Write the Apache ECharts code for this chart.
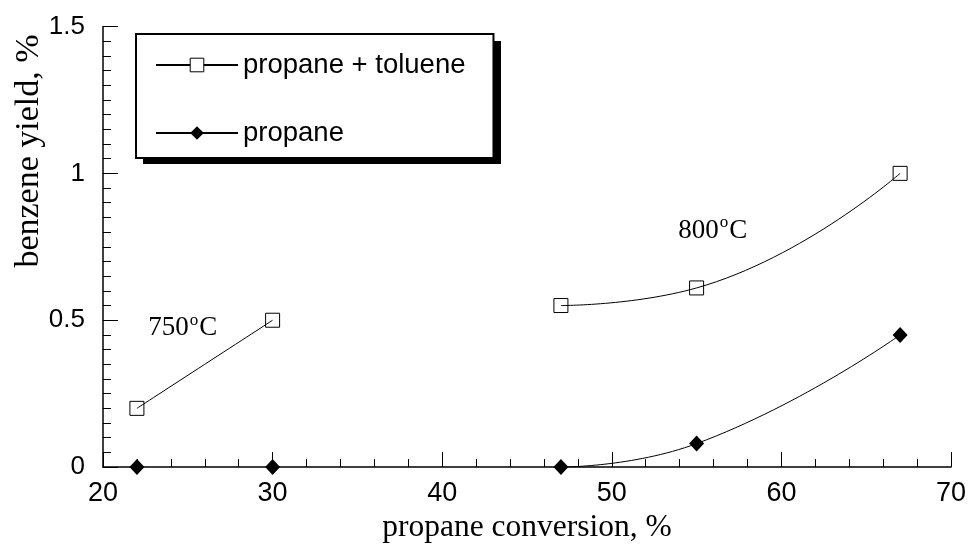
<!DOCTYPE html>
<html>
<head>
<meta charset="utf-8">
<script src="https://cdn.jsdelivr.net/npm/echarts@6/dist/echarts.min.js"></script>
<style>html,body{margin:0;padding:0;background:#fff}#c{width:970px;height:549px}</style>
</head>
<body>
<div id="c"></div>
<script>
// ---- data ----
const seriesNames = ['propane + toluene', 'propane'];
const tolueneAt750 = [[22, 0.2], [30, 0.5]];
const tolueneAt800 = [[47, 0.55], [55, 0.61], [67, 1.0]];
const propaneAt750 = [[22, 0], [30, 0]];
const propaneAt800 = [[47, 0], [55, 0.08], [67, 0.45]];
const xTitle = 'propane conversion, %';
const yTitle = 'benzene yield, %';
const tempLabels = [
  { temp: '750', at: [24.7, 0.478] },
  { temp: '800', at: [55.95, 0.81] }
];

const sans = 'Liberation Sans';
const serif = 'Liberation Serif';

const chart = echarts.init(document.getElementById('c'));

const squareSeries = (data, withLabels) => ({
  name: seriesNames[0],
  type: 'line',
  data: data,
  smooth: 0.5,
  symbol: 'rect',
  symbolSize: 14,
  showSymbol: true,
  itemStyle: { color: 'rgba(255,255,255,0)', borderColor: '#000', borderWidth: 1 },
  lineStyle: { color: '#000', width: 1 },
  emphasis: { disabled: true },
  z: 3,
  markPoint: withLabels ? {
    symbol: 'circle',
    symbolSize: 0,
    silent: true,
    label: {
      show: true,
      position: 'inside',
      formatter: p => '{a|' + p.name + '}{b|o}{a|C}',
      rich: {
        a: { fontFamily: serif, fontSize: 27, color: '#000', lineHeight: 30, verticalAlign: 'bottom' },
        b: { fontFamily: serif, fontSize: 17, color: '#000', lineHeight: 30, verticalAlign: 'top', padding: [0, 1, 12, 1] }
      }
    },
    data: tempLabels.map(t => ({ name: t.temp, coord: t.at }))
  } : undefined
});

const diamondSeries = (data, showLine) => ({
  name: seriesNames[1],
  type: 'line',
  data: data,
  smooth: 0.5,
  symbol: 'diamond',
  symbolSize: [15, 16],
  showSymbol: true,
  itemStyle: { color: '#000' },
  lineStyle: { color: '#000', width: showLine ? 1 : 0, opacity: showLine ? 1 : 0 },
  emphasis: { disabled: true },
  z: 4
});

chart.setOption({
  animation: false,
  backgroundColor: '#fff',
  grid: { left: 103, right: 19, top: 26.5, bottom: 80, containLabel: false },
  xAxis: {
    type: 'value', min: 20, max: 70, interval: 10,
    name: xTitle, nameLocation: 'middle', nameGap: 39,
    nameTextStyle: { fontFamily: serif, fontSize: 31.5, color: '#000' },
    axisLine: { show: true, lineStyle: { color: '#000', width: 1.5 } },
    axisTick: { show: true, inside: true, length: 15, lineStyle: { color: '#000', width: 1 } },
    minorTick: { show: true, splitNumber: 5, length: 8, lineStyle: { color: '#000', width: 1 } },
    axisLabel: { fontFamily: sans, fontSize: 27, color: '#000', margin: 13 },
    splitLine: { show: false }, minorSplitLine: { show: false }
  },
  yAxis: {
    type: 'value', min: 0, max: 1.5, interval: 0.5,
    axisLine: { show: true, lineStyle: { color: '#000', width: 1.5 } },
    axisTick: { show: true, inside: true, length: 15, lineStyle: { color: '#000', width: 1 } },
    minorTick: { show: true, splitNumber: 10, length: 8, lineStyle: { color: '#000', width: 1 } },
    axisLabel: { fontFamily: sans, fontSize: 26, color: '#000', margin: 18 },
    splitLine: { show: false }, minorSplitLine: { show: false }
  },
  legend: {
    orient: 'vertical',
    left: 136, top: 34,
    z: 10,
    padding: [17, 28, 11, 19],
    itemGap: 40,
    itemWidth: 82, itemHeight: 17,
    backgroundColor: '#fff',
    borderColor: '#000', borderWidth: 2,
    textStyle: { fontFamily: sans, fontSize: 27.5, color: '#000' },
    selectedMode: false,
    data: [
      { name: seriesNames[0], itemStyle: { color: '#fff', borderColor: '#000', borderWidth: 1 } },
      { name: seriesNames[1] }
    ]
  },
  graphic: [{
    type: 'rect',
    z: 1,
    silent: true,
    shape: { x: 143, y: 41, width: 358, height: 123 },
    style: { fill: '#000' }
  }, {
    type: 'text',
    x: 29, y: 151,
    rotation: Math.PI / 2,
    style: { text: yTitle, font: '34px "' + serif + '"', fill: '#000', align: 'center', verticalAlign: 'middle' }
  }],
  series: [
    squareSeries(tolueneAt800, true),
    squareSeries(tolueneAt750, false),
    diamondSeries(propaneAt800, true),
    diamondSeries(propaneAt750, false)
  ]
});
</script>
</body>
</html>
